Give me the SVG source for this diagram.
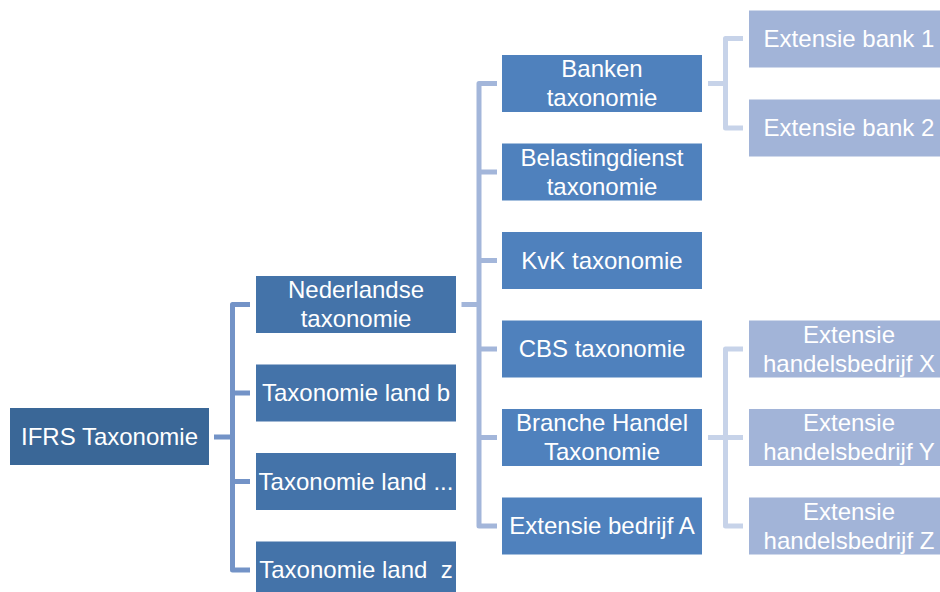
<svg xmlns="http://www.w3.org/2000/svg" width="940" height="592" viewBox="0 0 940 592">
<style>
text{font-family:"Liberation Sans",Arial,sans-serif;font-size:24px;fill:#ffffff;text-anchor:middle;white-space:pre}
.n0{fill:#3a6797}
.n1{fill:#4473a9}
.n2{fill:#4f81bd}
.n3{fill:#a2b4d8}
.c{fill:none;stroke-width:5;stroke-linejoin:round}
.c1{stroke:#7393c7}
.c2{stroke:#a3b6da}
.c3{stroke:#c7d3e9}
</style>
<rect width="940" height="592" fill="#ffffff"/>
<g id="connectors">
<path class="c c1" d="M214 437H232.5M250 304.5H232.5V570H250M232.5 393H250M232.5 481.5H250"/>
<path class="c c2" d="M461.5 304.5H479M497 83.5H479V526H497M479 172H497M479 260.5H497M479 349H497M479 437.5H497"/>
<path class="c c3" d="M708 83.5H725.5M743 38.5H725.5V128H743"/>
<path class="c c3" d="M708 437.5H725.5M743 349H725.5V526H743M725.5 437.5H743"/>
</g>
<g id="ifrs"><rect class="n0" x="10" y="408" width="199" height="57"/><text x="109.5" y="445">IFRS Taxonomie</text></g>
<g id="nederlandse"><rect class="n1" x="256" y="276" width="200" height="57"/><text x="356" y="298">Nederlandse</text><text x="356" y="327">taxonomie</text></g>
<g id="land-b"><rect class="n1" x="256" y="364.5" width="200" height="57"/><text x="356" y="401">Taxonomie land b</text></g>
<g id="land-dots"><rect class="n1" x="256" y="453" width="200" height="57"/><text x="356" y="489.5">Taxonomie land ...</text></g>
<g id="land-z"><rect class="n1" x="256" y="541.5" width="200" height="57"/><text x="356" y="578">Taxonomie land  z</text></g>
<g id="banken"><rect class="n2" x="502" y="55" width="200" height="57"/><text x="602" y="77">Banken</text><text x="602" y="106">taxonomie</text></g>
<g id="belastingdienst"><rect class="n2" x="502" y="143.5" width="200" height="57"/><text x="602" y="165.5">Belastingdienst</text><text x="602" y="194.5">taxonomie</text></g>
<g id="kvk"><rect class="n2" x="502" y="232" width="200" height="57"/><text x="602" y="268.5">KvK taxonomie</text></g>
<g id="cbs"><rect class="n2" x="502" y="320.5" width="200" height="57"/><text x="602" y="357">CBS taxonomie</text></g>
<g id="branche"><rect class="n2" x="502" y="409" width="200" height="57"/><text x="602" y="431">Branche Handel</text><text x="602" y="460">Taxonomie</text></g>
<g id="extensie-a"><rect class="n2" x="502" y="497.5" width="200" height="57"/><text x="602" y="534">Extensie bedrijf A</text></g>
<g id="bank1"><rect class="n3" x="749" y="10.5" width="200" height="57"/><text x="849" y="47">Extensie bank 1</text></g>
<g id="bank2"><rect class="n3" x="749" y="99.5" width="200" height="57"/><text x="849" y="136">Extensie bank 2</text></g>
<g id="handel-x"><rect class="n3" x="749" y="320.5" width="200" height="57"/><text x="849" y="342.5">Extensie</text><text x="849" y="371.5">handelsbedrijf X</text></g>
<g id="handel-y"><rect class="n3" x="749" y="409" width="200" height="57"/><text x="849" y="431">Extensie</text><text x="849" y="460">handelsbedrijf Y</text></g>
<g id="handel-z"><rect class="n3" x="749" y="497.5" width="200" height="57"/><text x="849" y="519.5">Extensie</text><text x="849" y="548.5">handelsbedrijf Z</text></g>
</svg>
